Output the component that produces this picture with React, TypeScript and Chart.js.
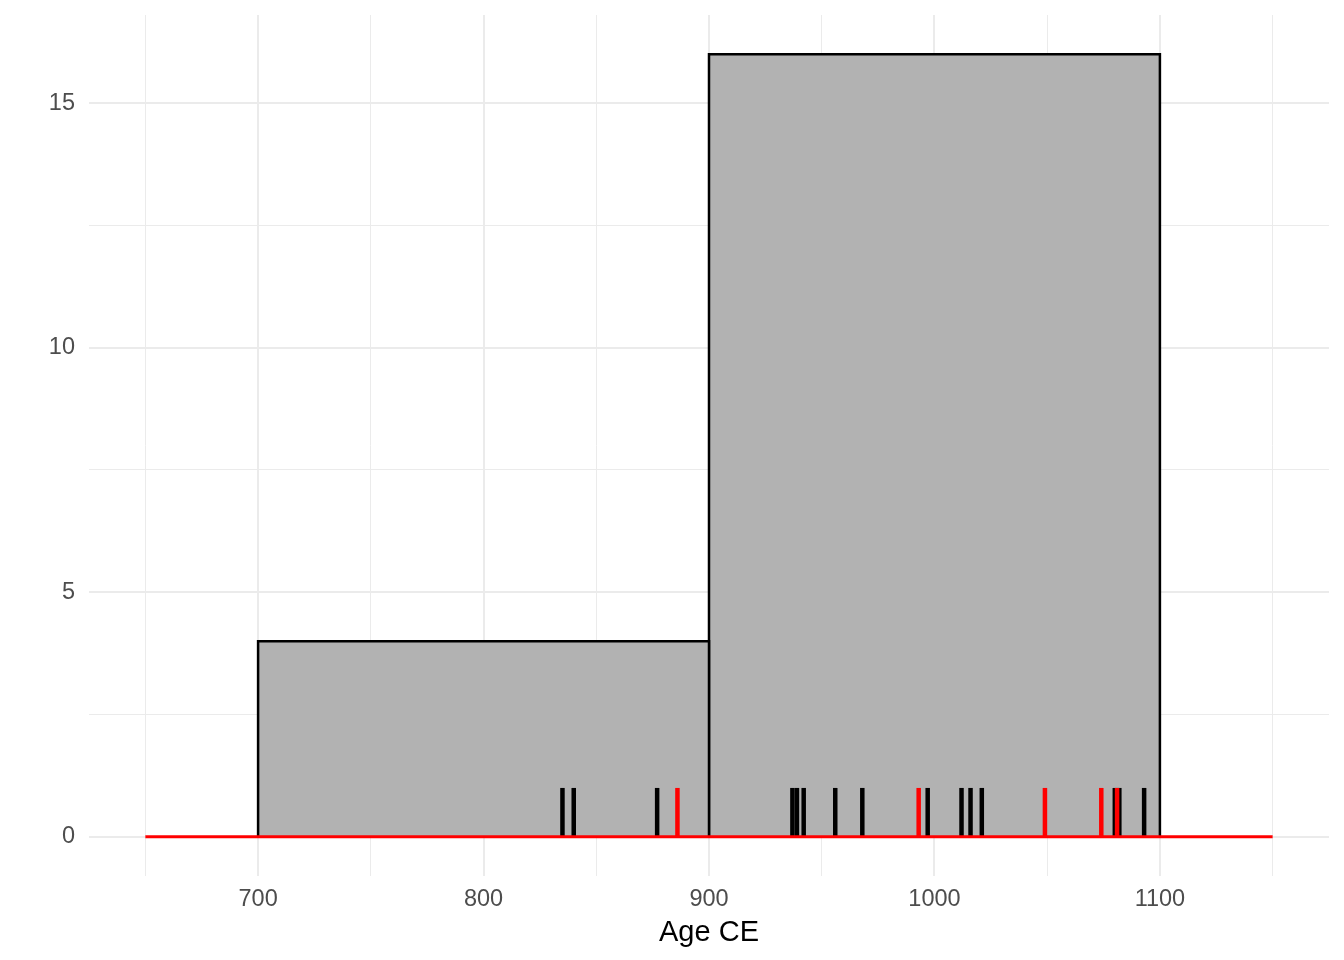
import React, { useEffect, useRef } from "react";
import { Chart, registerables } from "chart.js";

Chart.register(...registerables);

const binEdges = [700, 900, 1100];
const binCounts = [4, 16];
const blackRug = [835, 840, 877, 937, 939, 942, 956, 968, 997, 1012, 1016, 1021, 1080, 1082, 1093];
const redRug = [886, 993, 1049, 1074, 1081];
const baselineRange = [650, 1150];
const xTickLabels = [700, 800, 900, 1000, 1100];
const yTickLabels = [0, 5, 10, 15];
const xTitle = "Age CE";

export default function App() {
  const ref = useRef<HTMLCanvasElement>(null);
  useEffect(() => {
    document.body.style.margin = "0";
    const ctx = ref.current!;
    // Chart.js draws the first dataset on top, so push top-most first.
    const datasets: any[] = [];
    datasets.push({
      data: [
        { x: baselineRange[0], y: 0 },
        { x: baselineRange[1], y: 0 },
      ],
      borderColor: "#FF0000",
      borderWidth: 3,
      borderCapStyle: "butt",
      pointRadius: 0,
      fill: false,
    });
    const rug = (xs: number[], color: string) =>
      xs.forEach((x) =>
        datasets.push({
          data: [
            { x, y: 0 },
            { x, y: 1 },
          ],
          borderColor: color,
          borderWidth: 4.5,
          borderCapStyle: "butt",
          pointRadius: 0,
          fill: false,
        })
      );
    rug(redRug, "#FF0000");
    rug(blackRug, "#000000");
    binCounts.forEach((c, i) => {
      const x0 = binEdges[i];
      const x1 = binEdges[i + 1];
      datasets.push({
        data: [
          { x: x0, y: 0 },
          { x: x0, y: c },
          { x: x1, y: c },
          { x: x1, y: 0 },
        ],
        borderColor: "#000000",
        borderWidth: 2.5,
        backgroundColor: "#B2B2B2",
        fill: "origin",
        pointRadius: 0,
        tension: 0,
      });
    });

    const family = "'Liberation Sans', Arial, sans-serif";
    const chart = new Chart(ctx, {
      type: "line",
      data: { datasets },
      options: {
        animation: false,
        responsive: false,
        layout: { padding: { top: 15, right: 15, left: 0, bottom: 0 } },
        plugins: { legend: { display: false }, tooltip: { enabled: false } },
        scales: {
          x: {
            type: "linear",
            min: 625,
            max: 1175,
            border: { display: false },
            grid: {
              drawTicks: false,
              color: "#EBEBEB",
              lineWidth: (c: any) => (c.tick && c.tick.value % 100 === 0 ? 2 : 1),
            },
            afterBuildTicks: (s: any) => {
              const t = [];
              for (let v = 650; v <= 1150; v += 50) t.push({ value: v });
              s.ticks = t;
            },
            afterFit: (s: any) => {
              s.height = 84;
            },
            ticks: {
              autoSkip: false,
              maxRotation: 0,
              padding: 9,
              color: "#4D4D4D",
              font: { family, size: 23.5 },
              callback: (v: any) => (xTickLabels.includes(v) ? String(v) : ""),
            },
            title: {
              display: true,
              text: xTitle,
              color: "#000000",
              font: { family, size: 29 },
              padding: { top: 4, bottom: 10 },
            },
          },
          y: {
            type: "linear",
            min: -0.8,
            max: 16.8,
            border: { display: false },
            grid: {
              drawTicks: false,
              color: "#EBEBEB",
              lineWidth: (c: any) => (c.tick && c.tick.value % 5 === 0 ? 2 : 1),
            },
            afterBuildTicks: (s: any) => {
              const t = [];
              for (let v = 0; v <= 15; v += 2.5) t.push({ value: v });
              s.ticks = t;
            },
            afterFit: (s: any) => {
              s.width = 89;
            },
            ticks: {
              autoSkip: false,
              padding: 14,
              color: "#4D4D4D",
              font: { family, size: 23.5, lineHeight: 0.05 },
              callback: (v: any) => (yTickLabels.includes(v) ? String(v) : ""),
            },
          },
        },
      },
    });
    return () => chart.destroy();
  }, []);
  return <canvas ref={ref} width={1344} height={960} style={{ display: "block" }} />;
}
